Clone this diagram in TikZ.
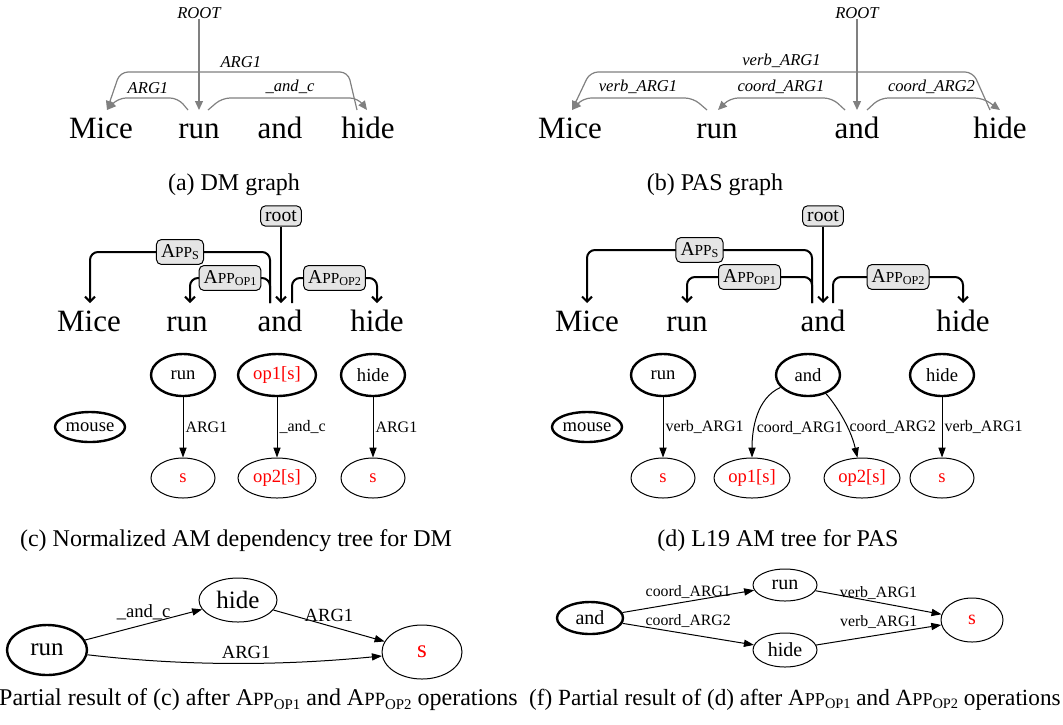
\documentclass[tikz,border=0pt]{standalone}
\usepackage{fontspec}
\setmainfont{Liberation Serif}
\usepackage{graphicx}
\usetikzlibrary{arrows.meta,shapes.geometric,calc}
\newcommand\AppOp[1]{A\scalebox{0.78}{PP}\raisebox{-0.3ex}{\scalebox{0.62}{#1}}}
\begin{document}
\begin{tikzpicture}[x=0.5pt,y=-0.5pt,
 word/.style={font=\fontsize{15.5}{16}\selectfont, anchor=base, inner sep=0pt},
 arclbl/.style={font=\fontsize{8.3}{9}\selectfont\itshape, inner sep=0pt},
 grayarc/.style={draw=black!50, line width=0.6pt, rounded corners=4pt, -{Triangle[length=4.5pt,width=4pt]}},
 amarc/.style={draw=black, line width=1pt, rounded corners=4pt, -{Straight Barb[length=2.5pt,width=5pt]}},
 ambox/.style={draw, fill=black!10, rounded corners=2.5pt, line width=0.5pt, inner sep=2.3pt, font=\fontsize{9.8}{10}\selectfont},
 captxt/.style={font=\fontsize{12}{13}\selectfont, inner sep=0pt},
 gnode/.style={ellipse, draw, line width=0.5pt, inner sep=0pt, font=\fontsize{9.3}{10}\selectfont},
 boldnode/.style={line width=1.2pt},
 esz/.style 2 args={minimum width=#1, minimum height=#2},
 redtext/.style={text=red},
 gedge/.style={draw, line width=0.5pt, -{Triangle[length=5pt,width=3.6pt]}},
 elbl/.style={font=\fontsize{8}{9}\selectfont, inner sep=1pt},
]
\useasboundingbox (0,0) rectangle (1063,724);

% ---------------- (a) DM graph
\node[arclbl] (rootA) at (199,13) {ROOT};
\node[word] (miceA) at (101,138) {Mice};
\node[word] (runA) at (199,138) {run};
\node[word] (andA) at (280,138) {and};
\node[word] (hideA) at (368,138) {hide};
\draw[grayarc] (rootA.south) -- ($(runA.base)+(0,-28)$);
\draw[grayarc] ($(runA.base)+(-11,-28)$) -- (178,98) -- node[arclbl, above=2pt]{ARG1} (118,98) -- ($(miceA.base)+(6,-28)$);
\draw[grayarc] ($(hideA.base)+(-11,-28)$) -- (348,72) -- node[arclbl, above=2pt, pos=0.47]{ARG1} (120,72) -- ($(miceA.base)+(6,-28)$);
\draw[grayarc] ($(runA.base)+(9,-28)$) -- (222,98) -- node[arclbl, above=2pt]{\_and\_c} (358,98) -- ($(hideA.base)+(-1,-28)$);
\node[captxt] (capA) at (234,185) {(a) DM graph};

% ---------------- (b) PAS graph
\node[arclbl] (rootB) at (857,13) {ROOT};
\node[word] (miceB) at (570,138) {Mice};
\node[word] (runB) at (717,138) {run};
\node[word] (andB) at (857,138) {and};
\node[word] (hideB) at (1000,138) {hide};
\draw[grayarc] (rootB.south) -- ($(andB.base)+(0,-28)$);
\draw[grayarc] ($(runB.base)+(-10,-28)$) -- (693,98) -- node[arclbl, above=2pt]{verb\_ARG1} (583,98) -- ($(miceB.base)+(2,-28)$);
\draw[grayarc] ($(hideB.base)+(-10,-28)$) -- (973,72) -- node[arclbl, above=2pt]{verb\_ARG1} (590,72) -- ($(miceB.base)+(2,-28)$);
\draw[grayarc] ($(andB.base)+(-12,-28)$) -- (832,98) -- node[arclbl, above=2pt]{coord\_ARG1} (730,98) -- ($(runB.base)+(1,-28)$);
\draw[grayarc] ($(andB.base)+(10,-28)$) -- (880,98) -- node[arclbl, above=2pt]{coord\_ARG2} (983,98) -- ($(hideB.base)+(0,-28)$);
\node[captxt] (capB) at (715,185) {(b) PAS graph};

% ---------------- (c) top
\node[ambox] (rootC) at (281,216) {root};
\node[word] (miceC) at (89,331) {Mice};
\node[word] (runC) at (187,331) {run};
\node[word] (andC) at (280,331) {and};
\node[word] (hideC) at (377,331) {hide};
\draw[amarc] ($(andC.base)+(-10,-28)$) -- (270,252) -- node[ambox]{\AppOp{S}} (90,252) -- ($(miceC.base)+(1,-28)$);
\draw[amarc] ($(andC.base)+(-10,-28)$) -- (270,278) -- node[ambox]{\AppOp{OP1}} (190,278) -- ($(runC.base)+(3,-28)$);
\draw[amarc] (rootC) -- ($(andC.base)+(1,-28)$);
\draw[amarc] ($(andC.base)+(12,-28)$) -- (292,278) -- node[ambox]{\AppOp{OP2}} (377,278) -- ($(hideC.base)+(0,-28)$);

% ---------------- (d) top
\node[ambox] (rootD) at (823,216) {root};
\node[word] (miceD) at (587,331) {Mice};
\node[word] (runD) at (687,331) {run};
\node[word] (andD) at (823,331) {and};
\node[word] (hideD) at (963,331) {hide};
\draw[amarc] ($(andD.base)+(-11,-28)$) -- (812,250) -- node[ambox]{\AppOp{S}} (587,250) -- ($(miceD.base)+(0,-28)$);
\draw[amarc] ($(andD.base)+(-11,-28)$) -- (812,277) -- node[ambox]{\AppOp{OP1}} (687,277) -- ($(runD.base)+(0,-28)$);
\draw[amarc] (rootD) -- ($(andD.base)+(0,-28)$);
\draw[amarc] ($(andD.base)+(10,-28)$) -- (833,277) -- node[ambox]{\AppOp{OP2}} (963,277) -- ($(hideD.base)+(0,-28)$);

% ---------------- (c) graph
\node[gnode, boldnode, esz={35pt}{15pt}] (mouseC) at (90,427) {mouse};
\node[gnode, boldnode, esz={32pt}{21pt}] (runC2) at (183,375) {run};
\node[gnode, boldnode, esz={39pt}{21pt}, redtext] (op1C) at (277,375) {op1[s]};
\node[gnode, boldnode, esz={32pt}{21pt}] (hideC2) at (373,375) {hide};
\node[gnode, esz={32pt}{20pt}, redtext] (sC1) at (183,478) {s};
\node[gnode, esz={39pt}{20pt}, redtext] (op2C) at (277,478) {op2[s]};
\node[gnode, esz={32pt}{20pt}, redtext] (sC2) at (373,478) {s};
\draw[gedge] (runC2) -- node[elbl, right]{ARG1} (sC1);
\draw[gedge] (op1C) -- node[elbl, right]{\_and\_c} (op2C);
\draw[gedge] (hideC2) -- node[elbl, right]{ARG1} (sC2);
\node[captxt] (capC) at (236,541) {(c) Normalized AM dependency tree for DM};

% ---------------- (d) graph
\node[gnode, boldnode, esz={35pt}{15pt}] (mouseD) at (587,427) {mouse};
\node[gnode, boldnode, esz={32pt}{21pt}] (runD2) at (663,375) {run};
\node[gnode, boldnode, esz={32pt}{21pt}] (andD2) at (808,375) {and};
\node[gnode, boldnode, esz={32pt}{21pt}] (hideD2) at (942,375) {hide};
\node[gnode, esz={32pt}{20pt}, redtext] (sD1) at (663,478) {s};
\node[gnode, esz={38pt}{20pt}, redtext] (op1D) at (752,478) {op1[s]};
\node[gnode, esz={38pt}{20pt}, redtext] (op2D) at (862,478) {op2[s]};
\node[gnode, esz={32pt}{20pt}, redtext] (sD2) at (942,478) {s};
\draw[gedge] (runD2) -- node[elbl, right]{verb\_ARG1} (sD1);
\draw[gedge] (andD2) .. controls (757,398) and (752,428) .. node[elbl, right, pos=0.66]{coord\_ARG1} (op1D);
\draw[gedge] (andD2) .. controls (832,400) and (850,425) .. node[elbl, right, pos=0.66]{coord\_ARG2} (op2D);
\draw[gedge] (hideD2) -- node[elbl, right]{verb\_ARG1} (sD2);
\node[captxt] (capD) at (778,541) {(d) L19 AM tree for PAS};

% ---------------- (e)
\node[gnode, boldnode, esz={40pt}{25pt}, font=\fontsize{12.5}{13}\selectfont] (runE) at (47,650) {run};
\node[gnode, esz={39pt}{22pt}, font=\fontsize{12.5}{13}\selectfont] (hideE) at (238,600) {hide};
\node[gnode, esz={40pt}{27pt}, font=\fontsize{12.5}{13}\selectfont, redtext] (sE) at (422,652) {s};
\draw[gedge] (runE) -- node[elbl, font=\fontsize{9.3}{10}\selectfont, above=1pt]{\_and\_c} (hideE);
\draw[gedge] (hideE) -- node[elbl, font=\fontsize{9.3}{10}\selectfont, above=1pt]{ARG1} (sE);
\draw[gedge] (runE) .. controls (200,668) and (300,664) .. node[elbl, font=\fontsize{9.3}{10}\selectfont, above=1pt]{ARG1} (sE);
\node[captxt, anchor=east] (capE) at (518,700) {(e) Partial result of (c) after \AppOp{OP1} and \AppOp{OP2} operations};

% ---------------- (f)
\node[gnode, boldnode, esz={33pt}{16pt}, font=\fontsize{10}{11}\selectfont] (andF) at (590,618) {and};
\node[gnode, esz={32pt}{16pt}, font=\fontsize{10}{11}\selectfont] (runF) at (785,585) {run};
\node[gnode, esz={32pt}{17pt}, font=\fontsize{10}{11}\selectfont] (hideF) at (785,650) {hide};
\node[gnode, esz={31pt}{22pt}, font=\fontsize{10}{11}\selectfont, redtext] (sF) at (972,620) {s};
\draw[gedge] (andF) -- node[elbl, font=\fontsize{7.9}{8}\selectfont, above=0pt]{coord\_ARG1} (runF);
\draw[gedge] (andF) -- node[elbl, font=\fontsize{7.9}{8}\selectfont, above=2pt]{coord\_ARG2} (hideF);
\draw[gedge] (runF) -- node[elbl, font=\fontsize{7.9}{8}\selectfont, above=0pt]{verb\_ARG1} (sF);
\draw[gedge] (hideF) -- node[elbl, font=\fontsize{7.9}{8}\selectfont, above=2pt]{verb\_ARG1} (sF);
\node[captxt, anchor=east, font=\fontsize{11.6}{12}\selectfont] (capF) at (1061,700) {(f) Partial result of (d) after \AppOp{OP1} and \AppOp{OP2} operations};
\end{tikzpicture}
\end{document}
